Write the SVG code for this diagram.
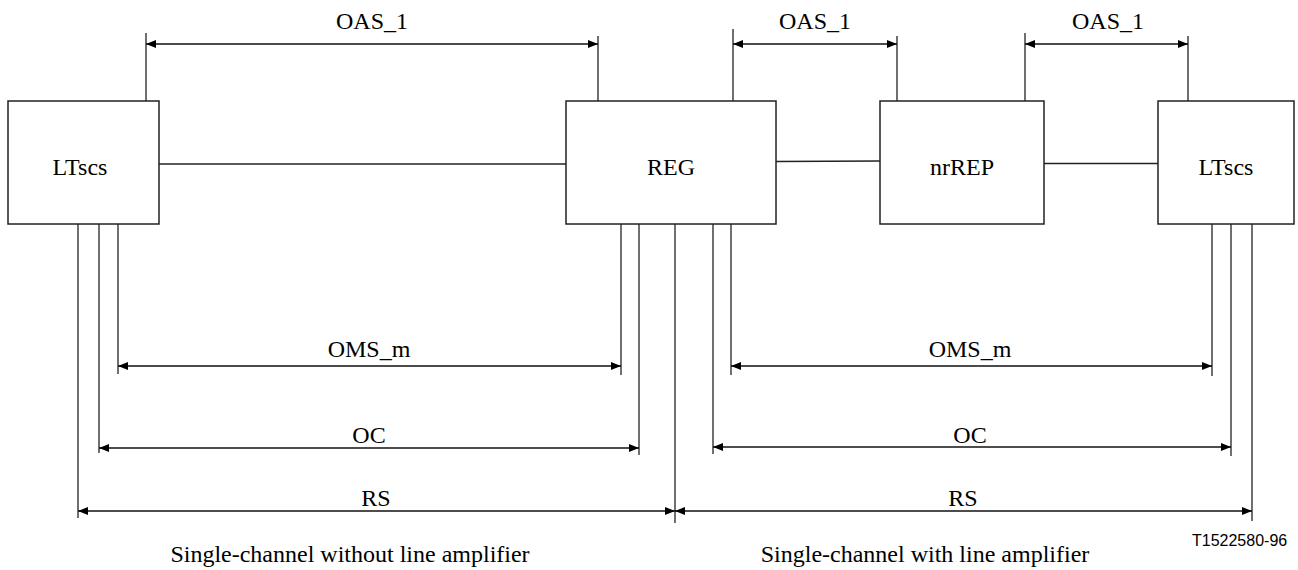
<svg xmlns="http://www.w3.org/2000/svg" width="1298" height="570" viewBox="0 0 1298 570">
<defs>
<marker id="ah" viewBox="0 0 10 8" refX="10" refY="4" markerWidth="10" markerHeight="8" markerUnits="userSpaceOnUse" orient="auto-start-reverse">
<path d="M0,0 L10,4 L0,8 z" fill="#000"/>
</marker>
<style>
.box{fill:#fff;stroke:#222;stroke-width:1.5}
.ln{stroke:#222;stroke-width:1.3;fill:none}
.dim{stroke:#111;stroke-width:1.5;fill:none;marker-start:url(#ah);marker-end:url(#ah)}
.t{font-family:"Liberation Serif","Times New Roman",serif;font-size:24px;fill:#000;text-anchor:middle}
.s{font-family:"Liberation Sans",Arial,sans-serif;font-size:16px;fill:#000}
</style>
</defs>
<rect width="1298" height="570" fill="#fff"/>
<g id="connectors">
<line class="ln" x1="159" y1="164" x2="566" y2="164"/>
<line class="ln" x1="776" y1="161.5" x2="880" y2="161"/>
<line class="ln" x1="1044" y1="163.5" x2="1158" y2="163.5"/>
<line class="ln" x1="146" y1="33" x2="146" y2="101"/>
<line class="ln" x1="598" y1="36" x2="598" y2="101"/>
<line class="ln" x1="733" y1="29" x2="733" y2="101"/>
<line class="ln" x1="897" y1="36" x2="897" y2="101"/>
<line class="ln" x1="1025" y1="33" x2="1025" y2="101"/>
<line class="ln" x1="1188" y1="36" x2="1188" y2="101"/>
<line class="ln" x1="78" y1="224" x2="78" y2="518"/>
<line class="ln" x1="99" y1="224" x2="99" y2="453"/>
<line class="ln" x1="118" y1="224" x2="118" y2="374"/>
<line class="ln" x1="621" y1="224" x2="621" y2="375"/>
<line class="ln" x1="639" y1="224" x2="639" y2="455"/>
<line class="ln" x1="675" y1="224" x2="675" y2="523"/>
<line class="ln" x1="713" y1="224" x2="713" y2="454"/>
<line class="ln" x1="731" y1="224" x2="731" y2="375"/>
<line class="ln" x1="1212" y1="224" x2="1212" y2="376"/>
<line class="ln" x1="1231" y1="224" x2="1231" y2="456"/>
<line class="ln" x1="1252" y1="224" x2="1252" y2="521"/>
<path class="dim" d="M146,44 H598"/>
<path class="dim" d="M733,44 H897"/>
<path class="dim" d="M1025,44 H1188"/>
<path class="dim" d="M118,366 H621"/>
<path class="dim" d="M99,448 H639"/>
<path class="dim" d="M78,511 H675"/>
<path class="dim" d="M731,366 H1212"/>
<path class="dim" d="M713,447 H1231"/>
<path class="dim" d="M675,511 H1252"/>
<text class="t" x="372" y="29">OAS_1</text>
<text class="t" x="815" y="29">OAS_1</text>
<text class="t" x="1108" y="29">OAS_1</text>
<text class="t" x="369" y="357">OMS_m</text>
<text class="t" x="369" y="443">OC</text>
<text class="t" x="376" y="506">RS</text>
<text class="t" x="970" y="357">OMS_m</text>
<text class="t" x="970" y="443">OC</text>
<text class="t" x="963" y="506">RS</text>
</g>
<g id="LTscs-left">
<rect class="box" x="8" y="101" width="151" height="123"/>
<text class="t" x="80" y="175">LTscs</text>
</g>
<g id="REG">
<rect class="box" x="566" y="101" width="210" height="123"/>
<text class="t" x="671" y="175">REG</text>
</g>
<g id="nrREP">
<rect class="box" x="880" y="101" width="164" height="123"/>
<text class="t" x="962" y="175">nrREP</text>
</g>
<g id="LTscs-right">
<rect class="box" x="1158" y="101" width="136" height="123"/>
<text class="t" x="1226" y="175">LTscs</text>
</g>
<g id="captions">
<text class="t" x="350" y="562">Single-channel without line amplifier</text>
<text class="t" x="925" y="562">Single-channel with line amplifier</text>
<text class="s" x="1192" y="546">T1522580-96</text>
</g>
</svg>
